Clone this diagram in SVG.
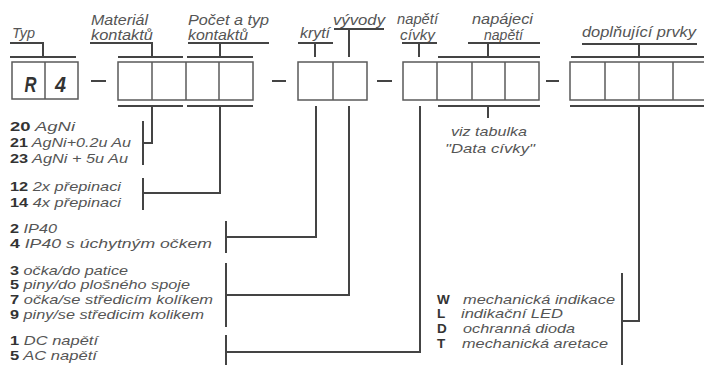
<svg xmlns="http://www.w3.org/2000/svg" width="704" height="365" viewBox="0 0 704 365">
<style>
.bx{fill:none;stroke:#5a5a5a;stroke-width:1.5}
.ln{fill:none;stroke:#444;stroke-width:2}
.lab{font-family:"Liberation Sans",Arial,sans-serif;font-style:italic;font-size:14px;fill:#555}
.lst{font-family:"Liberation Sans",Arial,sans-serif;font-style:italic;font-size:13.5px;fill:#555}
.b{font-weight:bold;font-style:normal;fill:#333}
.big{font-family:"Liberation Sans",Arial,sans-serif;font-style:italic;font-weight:bold;font-size:22px;fill:#333}
</style>
<rect width="704" height="365" fill="#fff"/>
<g id="labels">
<g id="lab-typ"><text class="lab" x="12" y="38" textLength="23" lengthAdjust="spacingAndGlyphs">Typ</text></g>
<g id="lab-material"><text class="lab" x="91" y="24.5" textLength="57" lengthAdjust="spacingAndGlyphs">Materiál</text><text class="lab" x="91" y="39.5" textLength="62" lengthAdjust="spacingAndGlyphs">kontaktů</text></g>
<g id="lab-pocet"><text class="lab" x="188" y="24.5" textLength="81" lengthAdjust="spacingAndGlyphs">Počet a typ</text><text class="lab" x="188" y="39.5" textLength="60" lengthAdjust="spacingAndGlyphs">kontaktů</text></g>
<g id="lab-kryti"><text class="lab" x="300" y="38" textLength="30" lengthAdjust="spacingAndGlyphs">krytí</text></g>
<g id="lab-vyvody"><text class="lab" x="333" y="25" textLength="52" lengthAdjust="spacingAndGlyphs">vývody</text></g>
<g id="lab-napeti-civky"><text class="lab" x="397" y="24" textLength="41" lengthAdjust="spacingAndGlyphs">napětí</text><text class="lab" x="400" y="39.5" textLength="35" lengthAdjust="spacingAndGlyphs">cívky</text></g>
<g id="lab-napajeci"><text class="lab" x="472" y="24" textLength="61" lengthAdjust="spacingAndGlyphs">napájeci</text><text class="lab" x="484" y="39.5" textLength="39" lengthAdjust="spacingAndGlyphs">napětí</text></g>
<g id="lab-doplnujici"><text class="lab" x="582" y="37" textLength="114" lengthAdjust="spacingAndGlyphs">doplňující prvky</text></g>
</g>
<g id="boxes">
<g id="box-typ"><rect class="bx" x="12" y="62" width="66" height="37"/><line class="bx" x1="45" y1="62" x2="45" y2="99"/>
<text class="big" x="24.5" y="92" textLength="12" lengthAdjust="spacingAndGlyphs">R</text><text class="big" x="55" y="92" textLength="11" lengthAdjust="spacingAndGlyphs">4</text></g>
<g id="box-kontakty"><rect class="bx" x="118" y="62" width="135" height="38"/><line class="bx" x1="152" y1="62" x2="152" y2="100"/><line class="bx" x1="186" y1="62" x2="186" y2="100"/><line class="bx" x1="219" y1="62" x2="219" y2="100"/></g>
<g id="box-kryti"><rect class="bx" x="298" y="62" width="69" height="38"/><line class="bx" x1="333" y1="62" x2="333" y2="100"/></g>
<g id="box-napeti"><rect class="bx" x="403" y="62" width="136" height="38"/><line class="bx" x1="437" y1="62" x2="437" y2="100"/><line class="bx" x1="472" y1="62" x2="472" y2="100"/><line class="bx" x1="505" y1="62" x2="505" y2="100"/></g>
<g id="box-doplnky"><rect class="bx" x="570" y="62" width="150" height="38"/><line class="bx" x1="605" y1="62" x2="605" y2="100"/><line class="bx" x1="639" y1="62" x2="639" y2="100"/><line class="bx" x1="673" y1="62" x2="673" y2="100"/></g>
<g id="dashes"><line class="ln" x1="91" y1="81" x2="106" y2="81"/><line class="ln" x1="272" y1="81" x2="286" y2="81"/><line class="ln" x1="377" y1="81" x2="392" y2="81"/><line class="ln" x1="546" y1="81" x2="559" y2="81"/></g>
</g>
<g id="connectors">
<path class="ln" d="M10 43H43V57M10 57H76"/>
<path class="ln" d="M90 43H152V57M118 57H183"/>
<path class="ln" d="M188 43H269M220 43V57M187 57H253"/>
<path class="ln" d="M298 43H333M315 43V57"/>
<path class="ln" d="M334 29H384M349 29V57"/>
<path class="ln" d="M402 43H437M419 43V57"/>
<path class="ln" d="M468 43H540M488 43V57M438 57H540"/>
<path class="ln" d="M582 44H697M639 44V57M571 57H704"/>
<path class="ln" d="M118 106H183M152 106V143H143M143 121V165"/>
<path class="ln" d="M187 106H253M220 106V193H143M143 178V210"/>
<path class="ln" d="M316 106V237H226M226 221V253"/>
<path class="ln" d="M349 106V295H226M226 263V327"/>
<path class="ln" d="M420 106V352H226M226 335V365"/>
<path class="ln" d="M438 106H540M488 106V118"/>
<path class="ln" d="M570 106H704M639 106V321H622M622 273V365"/>
</g>
<g id="list-material">
<text class="lst" x="10" y="131" textLength="65" lengthAdjust="spacingAndGlyphs"><tspan class="b">20</tspan> AgNi</text>
<text class="lst" x="10" y="147" textLength="121" lengthAdjust="spacingAndGlyphs"><tspan class="b">21</tspan> AgNi+0.2u Au</text>
<text class="lst" x="10" y="163" textLength="118" lengthAdjust="spacingAndGlyphs"><tspan class="b">23</tspan> AgNi + 5u Au</text>
</g>
<g id="list-pocet">
<text class="lst" x="10" y="191" textLength="111" lengthAdjust="spacingAndGlyphs"><tspan class="b">12</tspan> 2x přepinaci</text>
<text class="lst" x="10" y="207" textLength="111" lengthAdjust="spacingAndGlyphs"><tspan class="b">14</tspan> 4x přepinaci</text>
</g>
<g id="list-kryti">
<text class="lst" x="10" y="233" textLength="47" lengthAdjust="spacingAndGlyphs"><tspan class="b">2</tspan> IP40</text>
<text class="lst" x="10" y="248" textLength="202" lengthAdjust="spacingAndGlyphs"><tspan class="b">4</tspan> IP40 s úchytným očkem</text>
</g>
<g id="list-vyvody">
<text class="lst" x="10" y="275" textLength="118" lengthAdjust="spacingAndGlyphs"><tspan class="b">3</tspan> očka/do patice</text>
<text class="lst" x="10" y="289" textLength="180" lengthAdjust="spacingAndGlyphs"><tspan class="b">5</tspan> piny/do plošného spoje</text>
<text class="lst" x="10" y="304" textLength="203" lengthAdjust="spacingAndGlyphs"><tspan class="b">7</tspan> očka/se středicím kolíkem</text>
<text class="lst" x="10" y="319" textLength="194" lengthAdjust="spacingAndGlyphs"><tspan class="b">9</tspan> piny/se středicim kolikem</text>
</g>
<g id="list-napeti">
<text class="lst" x="10" y="345" textLength="88" lengthAdjust="spacingAndGlyphs"><tspan class="b">1</tspan> DC napětí</text>
<text class="lst" x="10" y="360" textLength="87" lengthAdjust="spacingAndGlyphs"><tspan class="b">5</tspan> AC napětí</text>
</g>
<g id="note-napajeci">
<text class="lst" x="451" y="136" textLength="76" lengthAdjust="spacingAndGlyphs">viz tabulka</text>
<text class="lst" x="445" y="153" textLength="90" lengthAdjust="spacingAndGlyphs">"Data cívky"</text>
</g>
<g id="list-doplnky">
<text class="lst b" x="437" y="304">W</text><text class="lst" x="463" y="304" textLength="152" lengthAdjust="spacingAndGlyphs">mechanická indikace</text>
<text class="lst b" x="437" y="318">L</text><text class="lst" x="461" y="318" textLength="102" lengthAdjust="spacingAndGlyphs">indikační LED</text>
<text class="lst b" x="437" y="333">D</text><text class="lst" x="463" y="333" textLength="112" lengthAdjust="spacingAndGlyphs">ochranná dioda</text>
<text class="lst b" x="437" y="348">T</text><text class="lst" x="462" y="348" textLength="146" lengthAdjust="spacingAndGlyphs">mechanická aretace</text>
</g>
</svg>
